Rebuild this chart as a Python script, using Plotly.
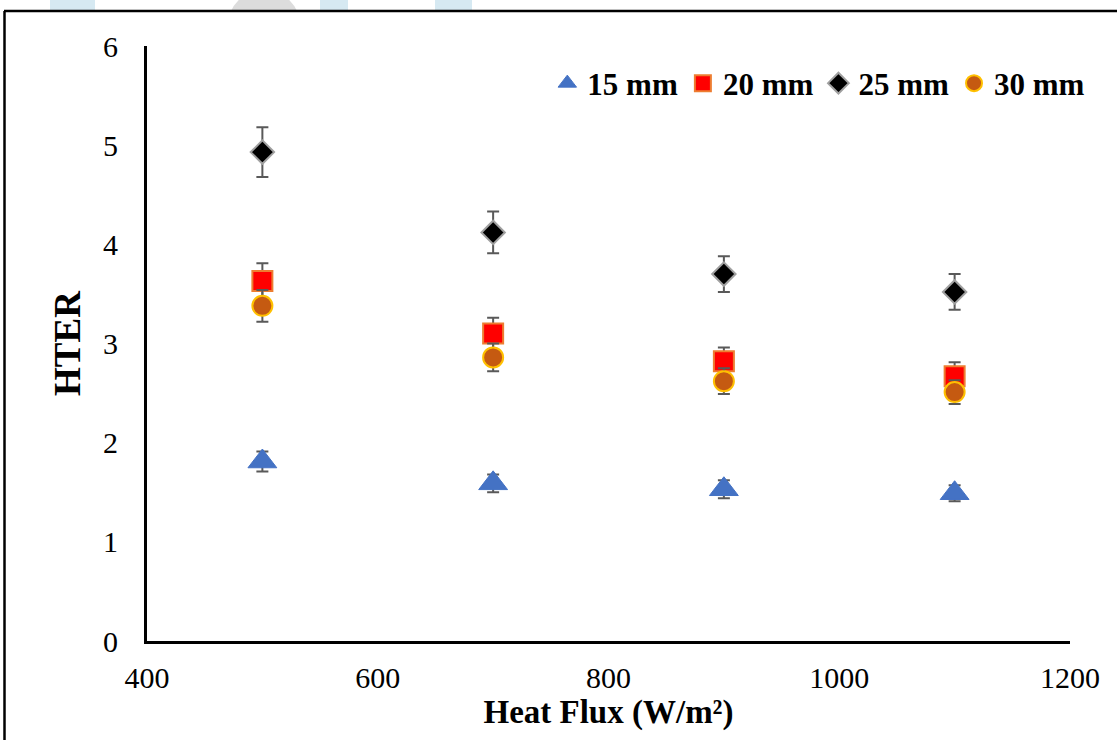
import plotly.graph_objects as go

heat_flux = [500, 700, 900, 1100]
hter_15 = [1.81, 1.59, 1.53, 1.49]
err_15 = [0.10, 0.09, 0.09, 0.08]
hter_20 = [3.63, 3.10, 2.82, 2.67]
err_20 = [0.18, 0.16, 0.14, 0.14]
hter_25 = [4.93, 4.12, 3.70, 3.52]
err_25 = [0.25, 0.21, 0.18, 0.18]
hter_30 = [3.38, 2.86, 2.62, 2.51]
err_30 = [0.16, 0.14, 0.13, 0.12]

FONT = "Liberation Serif"
ERR = dict(type="data", visible=True, color="#595959", thickness=2, width=6)

fig = go.Figure()
series = [
    ("15 mm", hter_15, err_15, dict(symbol="triangle-up", size=25, color="#4472C4",
                                     line=dict(color="#4472C4", width=1))),
    ("20 mm", hter_20, err_20, dict(symbol="square", size=20, color="#FF0000",
                                     line=dict(color="#ED7D31", width=2))),
    ("25 mm", hter_25, err_25, dict(symbol="diamond", size=18, color="#000000",
                                     line=dict(color="#A0A0A0", width=2))),
    ("30 mm", hter_30, err_30, dict(symbol="circle", size=20, color="#C55A11",
                                     line=dict(color="#FFC000", width=2))),
]
for name, y, e, m in series:
    fig.add_trace(go.Scatter(x=heat_flux, y=y, name=name, mode="markers", marker=m,
                             error_y=dict(array=e, **ERR)))

PX0, PW, PY0, PH = 147, 923, 641, 595


def px(x):
    return (x - PX0) / PW


def py(y):
    return (PY0 - y) / PH


shapes = []
for x0, x1 in [(50, 95), (320, 348), (435, 472)]:
    shapes.append(dict(type="rect", xref="paper", yref="paper",
                       x0=px(x0), x1=px(x1), y0=py(10), y1=py(-5),
                       fillcolor="#D6E9F2", line=dict(width=0), layer="below"))
shapes.append(dict(type="circle", xref="paper", yref="paper",
                   x0=px(228), x1=px(300), y0=py(60), y1=py(-10),
                   fillcolor="#DCDCDC", line=dict(width=0), layer="below"))
shapes.append(dict(type="rect", xref="paper", yref="paper",
                   x0=px(0), x1=px(1117), y0=py(745), y1=py(11),
                   fillcolor="white", line=dict(width=0), layer="below"))
shapes.append(dict(type="line", xref="paper", yref="paper",
                   x0=px(4), x1=px(1120), y0=py(11), y1=py(11),
                   line=dict(color="black", width=2.5)))
shapes.append(dict(type="line", xref="paper", yref="paper",
                   x0=px(4.5), x1=px(4.5), y0=py(11), y1=py(745),
                   line=dict(color="black", width=2.5)))

fig.update_layout(
    width=1117, height=740,
    margin=dict(l=147, r=47, t=46, b=99),
    paper_bgcolor="white", plot_bgcolor="white",
    font=dict(family=FONT, color="black", size=30),
    showlegend=True,
    legend=dict(orientation="h", x=1.022, xanchor="right", y=0.937, yanchor="middle",
                font=dict(family=FONT, size=31, color="black", weight="bold"),
                itemwidth=30, tracegroupgap=0, bgcolor="rgba(0,0,0,0)"),
    shapes=shapes,
    xaxis=dict(range=[400, 1200], tickvals=[400, 600, 800, 1000, 1200],
               showgrid=False, zeroline=False, showline=True, linecolor="black",
               linewidth=3, ticks="", ticklabelstandoff=8,
               title=dict(text="<b>Heat Flux (W/m²)</b>", font=dict(size=33), standoff=4)),
    yaxis=dict(range=[0, 6], tickvals=[0, 1, 2, 3, 4, 5, 6],
               showgrid=False, zeroline=False, showline=True, linecolor="black",
               linewidth=3, ticks="", ticklabelstandoff=20,
               title=dict(text="<b>HTER</b>", font=dict(size=37), standoff=12)),
)

fig.write_html("out.html", config={"displayModeBar": False},
               post_script="document.body.style.margin='0';")
